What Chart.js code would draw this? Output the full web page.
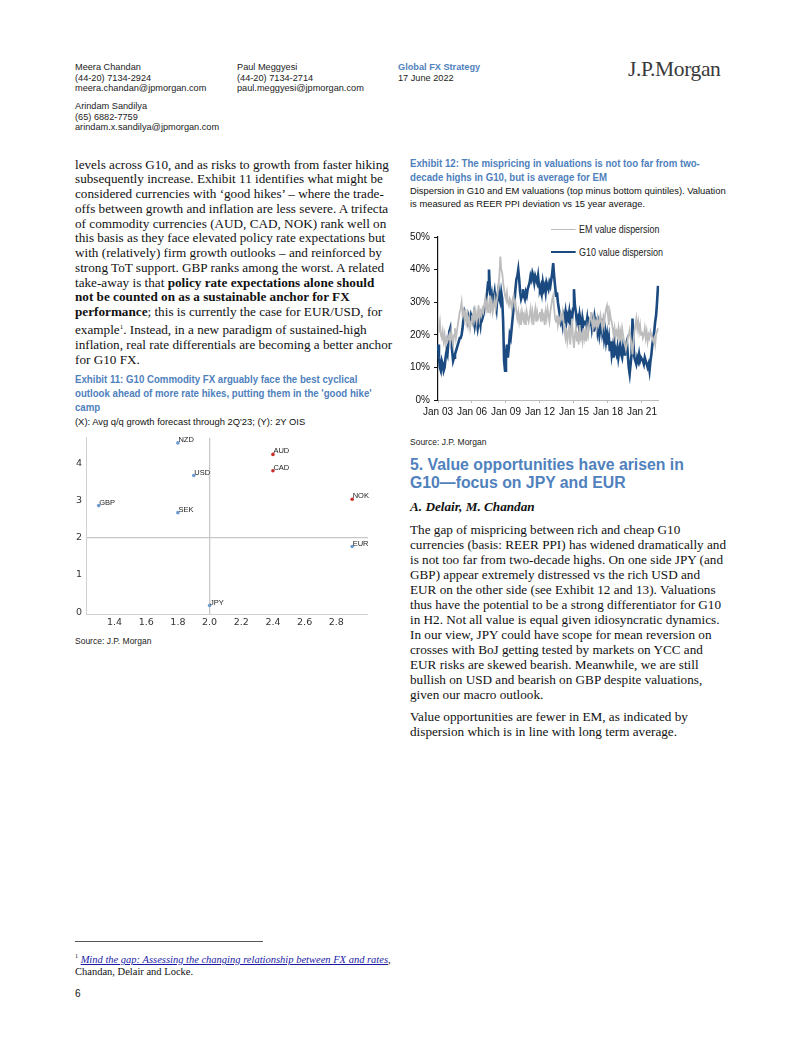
<!DOCTYPE html>
<html>
<head>
<meta charset="utf-8">
<script src="https://cdn.jsdelivr.net/npm/chart.js@4.4.1/dist/chart.umd.min.js"></script>
<style>
  html, body { margin: 0; padding: 0; background: #fff; }
  body { width: 802px; height: 1037px; position: relative; overflow: hidden; font-family: "Liberation Sans", Arial, sans-serif; color: #111; }
  .abs { position: absolute; white-space: nowrap; }
  .squeeze { transform: scaleX(0.84); transform-origin: 0 0; }
  .hdr { font-size: 9.2px; line-height: 10.5px; color: #222; }
  .blue { color: #4f81bd; }
  .serif { font-family: "Liberation Serif", "Times New Roman", serif; }
  .body { font-size: 13.2px; line-height: 14.75px; color: #111; }
  .extitle { font-weight: bold; font-size: 11.5px; line-height: 14px; color: #4f81bd; }
  .sub { font-size: 9.4px; line-height: 13px; color: #111; }
  .src { font-size: 8.5px; color: #222; }
  .legend-row { position: absolute; font-size: 10.5px; color: #222; display: flex; align-items: center; transform: scaleX(0.85); transform-origin: 0 50%; }
  .legend-row span.line { display: inline-block; width: 29px; margin-right: 4px; }
  canvas { position: absolute; }
</style>
</head>
<body>

<!-- header -->
<div class="abs hdr" style="left:75px; top:62px;">Meera Chandan<br>(44-20) 7134-2924<br>meera.chandan@jpmorgan.com</div>
<div class="abs hdr" style="left:75px; top:101px;">Arindam Sandilya<br>(65) 6882-7759<br>arindam.x.sandilya@jpmorgan.com</div>
<div class="abs hdr" style="left:237px; top:62px;">Paul Meggyesi<br>(44-20) 7134-2714<br>paul.meggyesi@jpmorgan.com</div>
<div class="abs hdr" style="left:398px; top:62px;"><b class="blue">Global FX Strategy</b><br>17 June 2022</div>
<div class="abs serif" style="left:628px; top:57px; font-size:21.5px; color:#3a3a3a; letter-spacing:-0.4px;">J.P.Morgan</div>

<!-- left column text -->
<div class="abs serif body" style="left:75px; top:157.5px;">levels across G10, and as risks to growth from faster hiking<br>subsequently increase. Exhibit 11 identifies what might be<br>considered currencies with ‘good hikes’ – where the trade-<br>offs between growth and inflation are less severe. A trifecta<br>of commodity currencies (AUD, CAD, NOK) rank well on<br>this basis as they face elevated policy rate expectations but<br>with (relatively) firm growth outlooks – and reinforced by<br>strong ToT support. GBP ranks among the worst. A related<br>take-away is that <b>policy rate expectations alone should</b><br><b>not be counted on as a sustainable anchor for FX</b><br><b>performance</b>; this is currently the case for EUR/USD, for<br>example<sup style="font-size:7px;">1</sup>. Instead, in a new paradigm of sustained-high<br>inflation, real rate differentials are becoming a better anchor<br>for G10 FX.</div>

<div class="abs extitle squeeze" style="left:75px; top:372px;">Exhibit 11: G10 Commodity FX arguably face the best cyclical<br>outlook ahead of more rate hikes, putting them in the 'good hike'<br>camp</div>
<div class="abs sub" style="left:75px; top:414.5px;">(X): Avg q/q growth forecast through 2Q'23; (Y): 2Y OIS</div>
<canvas id="scatterChart" style="left:60px; top:428px;" width="320" height="202"></canvas>
<div class="abs src" style="left:75px; top:636px;">Source: J.P. Morgan</div>

<!-- right column -->
<div class="abs extitle squeeze" style="left:410px; top:156px;">Exhibit 12: The mispricing in valuations is not too far from two-<br>decade highs in G10, but is average for EM</div>
<div class="abs sub" style="left:410px; top:183.5px;">Dispersion in G10 and EM valuations (top minus bottom quintiles). Valuation<br>is measured as REER PPI deviation vs 15 year average.</div>
<div id="legend12"></div>
<canvas id="lineChart" style="left:405px; top:215px;" width="265" height="205"></canvas>
<div class="abs src" style="left:410px; top:437px;">Source: J.P. Morgan</div>

<div class="abs" style="left:410px; top:456px; font-weight:bold; font-size:15.8px; line-height:18px; color:#4f81bd;">5. Value opportunities have arisen in<br>G10—focus on JPY and EUR</div>
<div class="abs serif" style="left:410px; top:499px; font-size:13.2px; font-weight:bold; font-style:italic;">A. Delair, M. Chandan</div>
<div class="abs serif body" style="left:410px; top:521.5px; line-height:15px;">The gap of mispricing between rich and cheap G10<br>currencies (basis: REER PPI) has widened dramatically and<br>is not too far from two-decade highs. On one side JPY (and<br>GBP) appear extremely distressed vs the rich USD and<br>EUR on the other side (see Exhibit 12 and 13). Valuations<br>thus have the potential to be a strong differentiator for G10<br>in H2. Not all value is equal given idiosyncratic dynamics.<br>In our view, JPY could have scope for mean reversion on<br>crosses with BoJ getting tested by markets on YCC and<br>EUR risks are skewed bearish. Meanwhile, we are still<br>bullish on USD and bearish on GBP despite valuations,<br>given our macro outlook.</div>
<div class="abs serif body" style="left:410px; top:708.5px; line-height:15px;">Value opportunities are fewer in EM, as indicated by<br>dispersion which is in line with long term average.</div>

<!-- footnote -->
<div class="abs" style="left:75px; top:941px; width:188px; height:1px; background:#555;"></div>
<div class="abs serif" style="left:75px; top:950px; font-size:10.5px; line-height:12px;"><sup style="font-size:6px;">1</sup> <a style="color:#1a1aa6; font-style:italic; text-decoration:underline;">Mind the gap: Assessing the changing relationship between FX and rates</a>,<br>Chandan, Delair and Locke.</div>
<div class="abs" style="left:75px; top:988px; font-size:10px;">6</div>

<script>
// ---------- Exhibit 11 data ----------
const fxNames = ['GBP', 'NZD', 'USD', 'SEK', 'AUD', 'CAD', 'NOK', 'EUR', 'JPY'];
const growthX = [1.3, 1.8, 1.9, 1.8, 2.4, 2.4, 2.9, 2.9, 2.0];
const oisY = [2.87, 4.56, 3.68, 2.68, 4.25, 3.81, 3.04, 1.77, 0.18];
const goodHike = ['AUD', 'CAD', 'NOK'];
const scatterXTicks = [1.4, 1.6, 1.8, 2.0, 2.2, 2.4, 2.6, 2.8];
const scatterYTicks = [0, 1, 2, 3, 4];

// ---------- Exhibit 12 data (monthly, Jan 03 - Jun 22) ----------
const g10Dispersion = [
  17, 13, 10, 9, 12, 11, 9, 10, 13, 15, 14, 18,        // 2003
  21, 22, 18, 15, 12, 13, 14, 15, 16, 17, 18, 19,      // 2004
  19, 20, 22, 25, 27, 26, 25, 24, 26, 25, 24, 26,      // 2005
  25, 24, 26, 23, 25, 24, 22, 24, 25, 23, 26, 25,      // 2006
  26, 28, 29, 31, 33, 36, 40, 34, 30, 32, 29, 31,      // 2007
  33, 30, 28, 32, 34, 31, 30, 33, 31, 24, 12, 9,       // 2008
  14, 17, 13, 16, 20, 19, 22, 25, 28, 30, 34, 37,      // 2009
  38, 40, 37, 33, 31, 32, 34, 32, 31, 33, 32, 34,      // 2010
  35, 36, 38, 37, 39, 38, 36, 38, 37, 36, 38, 35,      // 2011
  34, 35, 33, 36, 34, 35, 33, 36, 35, 34, 36, 35,      // 2012
  37, 39, 42, 38, 35, 32, 33, 30, 28, 26, 24, 25,      // 2013
  23, 26, 25, 27, 24, 26, 25, 27, 24, 26, 25, 28,      // 2014
  34, 29, 27, 24, 25, 23, 26, 24, 22, 25, 23, 24,      // 2015
  24, 23, 25, 22, 24, 23, 25, 22, 24, 21, 25, 23,      // 2016
  24, 21, 23, 20, 22, 25, 21, 23, 19, 21, 18, 20,      // 2017
  17, 19, 15, 18, 14, 16, 13, 17, 15, 14, 16, 13,      // 2018
  15, 17, 14, 13, 16, 14, 15, 17, 18, 14, 10, 8,       // 2019
  11, 14, 25, 17, 13, 12, 11, 13, 12, 14, 12, 13,      // 2020
  13, 12, 11, 13, 12, 11, 10, 11, 9, 12, 14, 17,       // 2021
  19, 21, 24, 26, 30, 35                               // 2022
];
const emDispersion = [
  21, 22, 24, 20, 19, 21, 18, 20, 17, 19, 18, 19,      // 2003
  20, 18, 21, 19, 17, 20, 22, 19, 21, 23, 25, 27,      // 2004
  28, 30, 26, 27, 25, 28, 24, 26, 23, 25, 22, 24,      // 2005
  26, 24, 28, 25, 27, 24, 26, 29, 25, 27, 26, 28,      // 2006
  27, 29, 31, 28, 30, 27, 29, 32, 28, 30, 27, 29,      // 2007
  31, 28, 30, 32, 35, 38, 44, 40, 39, 36, 34, 32,      // 2008
  31, 33, 30, 29, 31, 30, 28, 31, 32, 29, 30, 27,      // 2009
  25, 27, 24, 26, 23, 27, 25, 24, 26, 23, 27, 25,      // 2010
  24, 26, 28, 25, 27, 23, 26, 28, 24, 27, 25, 26,      // 2011
  27, 24, 28, 25, 26, 23, 27, 25, 28, 26, 24, 27,      // 2012
  29, 31, 32, 28, 25, 24, 26, 23, 25, 24, 26, 25,      // 2013
  27, 24, 21, 19, 22, 18, 20, 23, 17, 21, 25, 19,      // 2014
  16, 20, 22, 18, 21, 17, 23, 19, 20, 18, 22, 19,      // 2015
  21, 18, 22, 20, 23, 25, 27, 24, 22, 25, 23, 24,      // 2016
  22, 25, 23, 24, 26, 24, 22, 25, 23, 26, 28, 29,      // 2017
  26, 23, 27, 25, 24, 22, 20, 22, 19, 21, 20, 22,      // 2018
  18, 21, 19, 22, 20, 18, 17, 15.5, 17, 19, 20, 21.5,  // 2019
  19, 17, 14, 18, 21, 23, 25, 22, 24, 21, 23, 20,      // 2020
  21, 19, 20, 22, 19, 21, 18, 20, 19, 21, 20, 19,      // 2021
  18, 19, 17, 20, 21, 22                               // 2022
];
const monthNames = ['Jan', 'Feb', 'Mar', 'Apr', 'May', 'Jun', 'Jul', 'Aug', 'Sep', 'Oct', 'Nov', 'Dec'];
const startYear = 2003;
const lineYTicks = [0, 10, 20, 30, 40, 50];
const tickEveryMonths = 36;

const months = g10Dispersion.map((_, i) =>
    `${monthNames[i % 12]} ${String((startYear + Math.floor(i / 12)) % 100).padStart(2, '0')}`);

const sansFont = "'Liberation Sans', Arial, sans-serif";

// --- Exhibit 11: scatter ---
const pointLabels = {
    id: 'pointLabels',
    afterDatasetsDraw(chart) {
        const { ctx } = chart;
        const meta = chart.getDatasetMeta(0);
        ctx.save();
        ctx.font = "7.5px 'Liberation Sans', sans-serif";
        ctx.fillStyle = '#222';
        ctx.textBaseline = 'middle';
        meta.data.forEach((pt, i) => {
            ctx.fillText(fxNames[i], pt.x + 0.5, pt.y - 3);
        });
        ctx.restore();
    }
};

new Chart(document.getElementById('scatterChart'), {
    type: 'scatter',
    data: {
        datasets: [{
            data: growthX.map((x, i) => ({ x, y: oisY[i] })),
            pointBackgroundColor: fxNames.map(n => goodHike.includes(n) ? '#c9302c' : '#6c9bd2'),
            pointBorderWidth: 0,
            pointRadius: 1.8
        }]
    },
    options: {
        responsive: false,
        animation: false,
        layout: { padding: { top: 4, right: 12, left: 0, bottom: 0 } },
        plugins: { legend: { display: false }, tooltip: { enabled: false } },
        scales: {
            x: {
                type: 'linear', min: 1.22, max: 3.0,
                afterBuildTicks: s => { s.ticks = scatterXTicks.map(v => ({ value: v })); },
                afterFit: s => { s.height = 16; },
                border: { color: '#d0d0d0', width: 1 },
                grid: {
                    drawTicks: false,
                    color: c => Math.abs(c.tick.value - 2.0) < 1e-6 ? '#c8c8c8' : 'rgba(0,0,0,0)',
                    lineWidth: 1.3
                },
                ticks: { padding: 3, color: '#333', font: { family: "'DejaVu Sans', sans-serif", size: 9.5 },
                         callback: v => v.toFixed(1) }
            },
            y: {
                min: -0.05, max: 4.7,
                afterBuildTicks: s => { s.ticks = scatterYTicks.map(v => ({ value: v })); },
                afterFit: s => { s.width = 26; },
                border: { color: '#d0d0d0', width: 1 },
                grid: {
                    drawTicks: false,
                    color: c => c.tick.value === 2 ? '#c8c8c8' : 'rgba(0,0,0,0)',
                    lineWidth: 1.3
                },
                ticks: { padding: 4, color: '#333', font: { family: "'DejaVu Sans', sans-serif", size: 9.5 } }
            }
        }
    },
    plugins: [pointLabels]
});

// --- Exhibit 12: lines ---
const lineChart = new Chart(document.getElementById('lineChart'), {
    type: 'line',
    data: {
        labels: months,
        datasets: [
            { label: 'EM value dispersion', data: emDispersion, borderColor: '#bdbdbd', borderWidth: 1.8, pointRadius: 0, tension: 0 },
            { label: 'G10 value dispersion', data: g10Dispersion, borderColor: '#1b4a80', borderWidth: 2.6, pointRadius: 0, tension: 0 }
        ]
    },
    options: {
        responsive: false,
        animation: false,
        layout: { padding: { top: 22, right: 12, left: 0, bottom: 0 } },
        plugins: { legend: { display: false }, tooltip: { enabled: false } },
        scales: {
            x: {
                type: 'category',
                afterBuildTicks: s => { s.ticks = s.ticks.filter(t => t.value % tickEveryMonths === 0); },
                afterFit: s => { s.height = 20; },
                border: { color: '#bbb', width: 1 },
                grid: { drawOnChartArea: false, tickLength: 3, color: '#bbb' },
                ticks: { autoSkip: false, maxRotation: 0, padding: 3, color: '#111',
                         font: { family: sansFont, size: 10 } }
            },
            y: {
                min: 0, max: 50,
                afterBuildTicks: s => { s.ticks = lineYTicks.map(v => ({ value: v })); },
                afterFit: s => { s.width = 33; },
                border: { color: '#111', width: 1.2 },
                grid: { drawOnChartArea: false, tickLength: 4, color: '#111' },
                ticks: { padding: 4, color: '#111', font: { family: sansFont, size: 10 }, callback: v => v + '%' }
            }
        }
    }
});

// HTML legend built from the datasets
const legendEl = document.getElementById('legend12');
const legendTops = [223, 246];
lineChart.data.datasets.forEach((ds, i) => {
    const row = document.createElement('div');
    row.className = 'legend-row';
    row.style.left = '551px';
    row.style.top = legendTops[i] + 'px';
    row.innerHTML = `<span class="line" style="border-top:${ds.borderWidth}px solid ${ds.borderColor};"></span>${ds.label}`;
    legendEl.appendChild(row);
});
</script>
</body>
</html>
